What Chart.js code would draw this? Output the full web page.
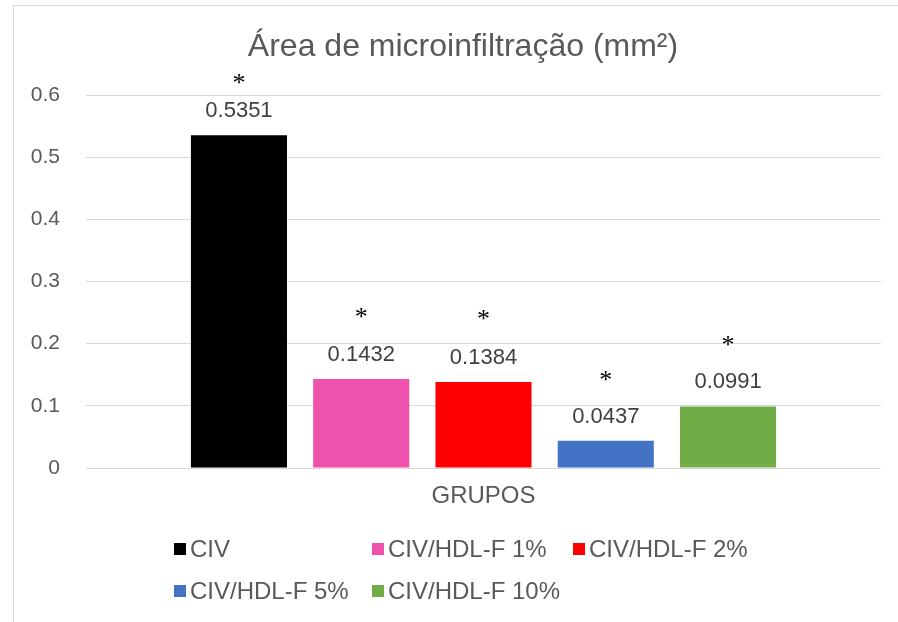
<!DOCTYPE html>
<html>
<head>
<meta charset="utf-8">
<script src="https://cdn.jsdelivr.net/npm/chart.js@4/dist/chart.umd.min.js"></script>
<style>
html,body{margin:0;padding:0;background:#fff;overflow:hidden;}
#wrap{position:relative;width:898px;height:622px;}
#frame{position:absolute;left:13px;top:5px;width:900px;height:700px;border:1px solid #d9d9d9;box-sizing:border-box;}
canvas{position:absolute;left:0;top:0;}
</style>
</head>
<body>
<div id="wrap"><div id="frame"></div><canvas id="c" width="898" height="622"></canvas></div>
<script>
const categories = ['GRUPOS'];
const seriesNames = ['CIV', 'CIV/HDL-F 1%', 'CIV/HDL-F 2%', 'CIV/HDL-F 5%', 'CIV/HDL-F 10%'];
const seriesValues = [0.5351, 0.1432, 0.1384, 0.0437, 0.0991];
const seriesColors = ['#000000', '#ee52ac', '#ff0000', '#4472c4', '#70ad47'];
const significance = ['*', '*', '*', '*', '*'];
const yTicks = [0, 0.1, 0.2, 0.3, 0.4, 0.5, 0.6];

const FONT = '"Liberation Sans", Arial, sans-serif';

const datasets = seriesNames.map((n, i) => ({
  label: n,
  data: [seriesValues[i]],
  backgroundColor: seriesColors[i],
  borderWidth: 0,
  categoryPercentage: 0.769,
  barPercentage: 0.786
}));

const labelPlugin = {
  id: 'labels',
  afterDatasetsDraw(chart, args, opts) {
    const ctx = chart.ctx;
    ctx.save();
    chart.data.datasets.forEach((ds, i) => {
      const el = chart.getDatasetMeta(i).data[0];
      ctx.textAlign = 'center';
      ctx.textBaseline = 'middle';
      ctx.fillStyle = '#404040';
      ctx.font = '22px ' + FONT;
      ctx.fillText(String(ds.data[0]), el.x, el.y - opts.valueOffset);
      ctx.fillStyle = '#000000';
      ctx.font = '26px "Liberation Serif", "Times New Roman", serif';
      ctx.fillText(significance[i], el.x, el.y - opts.starOffsets[i] + 6);
    });
    ctx.restore();
  }
};

const titlePlugin = {
  id: 'customTitle',
  afterDraw(chart, args, opts) {
    const ctx = chart.ctx;
    ctx.save();
    ctx.fillStyle = '#595959';
    ctx.textAlign = 'center';
    ctx.textBaseline = 'middle';
    ctx.font = '32px ' + FONT;
    ctx.fillText(opts.text, opts.x, opts.y);
    ctx.restore();
  }
};

const legendPlugin = {
  id: 'customLegend',
  afterDraw(chart, args, opts) {
    const ctx = chart.ctx;
    ctx.save();
    ctx.font = '24px ' + FONT;
    ctx.textBaseline = 'middle';
    ctx.textAlign = 'left';
    chart.data.datasets.forEach((ds, i) => {
      const row = Math.floor(i / 3), col = i % 3;
      const x = opts.cols[col], y = opts.rows[row];
      ctx.fillStyle = ds.backgroundColor;
      ctx.fillRect(x, y - 6, 12, 12);
      ctx.fillStyle = '#595959';
      ctx.fillText(ds.label, x + 16, y + 1);
    });
    ctx.restore();
  }
};

new Chart(document.getElementById('c'), {
  type: 'bar',
  data: { labels: categories, datasets },
  plugins: [labelPlugin, titlePlugin, legendPlugin],
  options: {
    responsive: false,
    animation: false,
    layout: { padding: { top: 95, right: 17, left: 0, bottom: 0 } },
    plugins: {
      legend: { display: false },
      title: { display: false },
      tooltip: { enabled: false },
      labels: { valueOffset: 24, starOffsets: [57, 67, 68, 66, 66] },
      customTitle: { text: 'Área de microinfiltração (mm²)', x: 463, y: 47 },
      customLegend: { cols: [174, 372, 573], rows: [549, 591] }
    },
    scales: {
      x: {
        grid: { display: false, drawTicks: false },
        border: { display: false },
        ticks: { color: '#595959', font: { family: FONT, size: 24 }, padding: 14 },
        afterFit(s) { s.height = 154; }
      },
      y: {
        min: 0, max: 0.6,
        afterBuildTicks(s) { s.ticks = yTicks.map(v => ({ value: v })); },
        grid: { color: '#d9d9d9', lineWidth: 1, drawTicks: false },
        border: { display: false },
        ticks: { color: '#595959', font: { family: FONT, size: 21 }, padding: 26,
          callback: v => String(v) },
        afterFit(s) { s.width = 86; }
      }
    }
  }
});
</script>
</body>
</html>
